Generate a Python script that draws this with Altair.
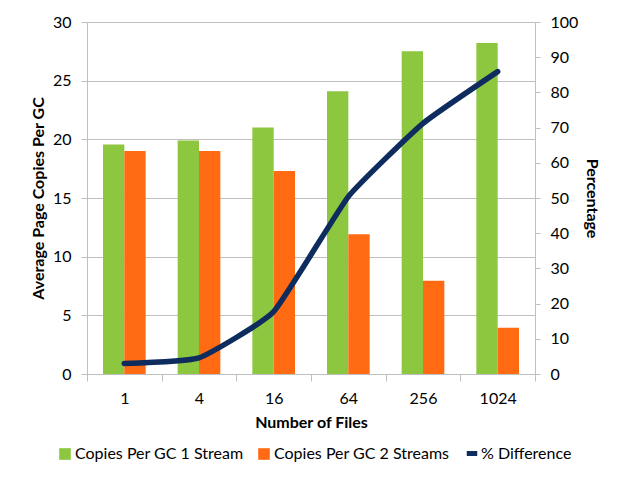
import altair as alt
import pandas as pd

# ---- data ----
files = ["1", "4", "16", "64", "256", "1024"]
one_stream = [19.55, 19.9, 21.0, 24.1, 27.5, 28.2]
two_streams = [19.0, 19.0, 17.3, 11.9, 7.95, 3.95]
pct_diff = [3.0, 4.6, 17.7, 50.4, 71.2, 85.9]
bar_series = ["Copies Per GC 1 Stream", "Copies Per GC 2 Streams"]
line_series = "% Difference"
left_ticks = [0, 5, 10, 15, 20, 25, 30]
right_ticks = [0, 10, 20, 30, 40, 50, 60, 70, 80, 90, 100]

# ---- styles ----
FONT = "Lato"
GREEN = "#8DC63F"
ORANGE = "#FF6A13"
NAVY = "#0E2C5E"
GRID = "#BFBFBF"
TXT = "#000000"

bars_df = pd.DataFrame({
    "files": files * 2,
    "series": [bar_series[0]] * len(files) + [bar_series[1]] * len(files),
    "value": one_stream + two_streams,
})
line_df = pd.DataFrame({
    "files": files,
    "pct": pct_diff,
    "series": [line_series] * len(files),
})

x_enc = alt.X(
    "files:N", sort=files,
    scale=alt.Scale(paddingInner=0, paddingOuter=0),
    axis=alt.Axis(
        title="Number of Files", labelAngle=0, tickBand="extent",
        grid=False, domainColor=GRID, tickColor=GRID, tickSize=7,
        labelPadding=9, titlePadding=8,
        labelFont=FONT, labelFontSize=16, labelColor=TXT,
        titleFont=FONT, titleFontSize=16, titleFontWeight="bold", titleColor=TXT,
    ),
)

bars = alt.Chart(bars_df).mark_bar().encode(
    x=x_enc,
    xOffset=alt.XOffset("series:N", sort=bar_series,
                        scale=alt.Scale(paddingInner=0, paddingOuter=0.75)),
    y=alt.Y(
        "value:Q",
        scale=alt.Scale(domain=[0, 30], nice=False, zero=True),
        axis=alt.Axis(
            title="Average Page Copies Per GC", values=left_ticks,
            grid=True, gridColor=GRID, domainColor=GRID, tickColor=GRID,
            tickSize=6, labelPadding=10, titlePadding=6,
            labelFont=FONT, labelFontSize=16, labelColor=TXT,
            titleFont=FONT, titleFontSize=16, titleFontWeight="bold", titleColor=TXT,
        ),
    ),
    color=alt.Color(
        "series:N",
        scale=alt.Scale(domain=bar_series, range=[GREEN, ORANGE]),
        legend=alt.Legend(
            title=None, orient="none", direction="horizontal", columns=2,
            legendX=-30, legendY=424, symbolType="square", symbolSize=135,
            symbolStrokeWidth=0, labelOffset=2, columnPadding=12,
            labelFont=FONT, labelFontSize=16, labelColor=TXT, labelLimit=300,
        ),
    ),
)

line = alt.Chart(line_df).mark_line(
    strokeWidth=5.5, strokeCap="round", strokeJoin="round",
    interpolate="cardinal", tension=0.6,
).encode(
    x=x_enc,
    y=alt.Y(
        "pct:Q",
        scale=alt.Scale(domain=[0, 100], nice=False),
        axis=alt.Axis(
            title="Percentage", orient="right", values=right_ticks,
            grid=False, domainColor=GRID, tickColor=GRID,
            tickSize=5, labelPadding=10, titlePadding=6,
            labelFont=FONT, labelFontSize=16, labelColor=TXT,
            titleFont=FONT, titleFontSize=16, titleFontWeight="bold", titleColor=TXT,
        ),
    ),
    color=alt.Color(
        "series:N",
        scale=alt.Scale(domain=[line_series], range=[NAVY]),
        legend=alt.Legend(
            title=None, orient="none", direction="horizontal",
            legendX=377, legendY=423.5, symbolType="stroke", symbolSize=110,
            symbolStrokeWidth=5, labelOffset=1,
            labelFont=FONT, labelFontSize=16, labelColor=TXT, labelLimit=300,
        ),
    ),
)

chart = alt.layer(bars, line).resolve_scale(
    y="independent", color="independent"
).properties(
    width=448, height=352,
    padding={"left": 79, "top": 14, "right": 80, "bottom": 100},
    autosize=alt.AutoSizeParams(type="none"),
).configure_view(stroke=None).configure(background="white")

chart.save("out.html", embed_options={"renderer": "svg", "actions": False})
